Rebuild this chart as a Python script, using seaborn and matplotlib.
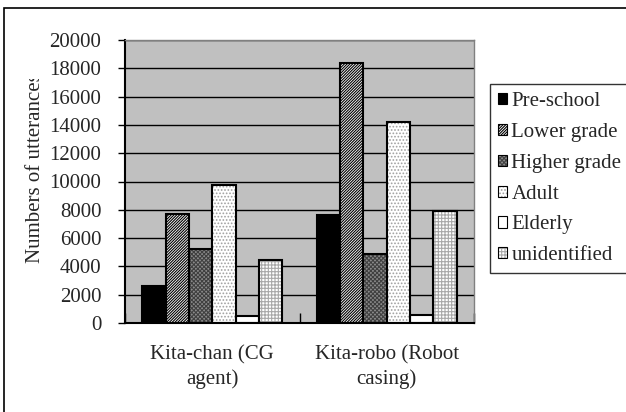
import matplotlib
matplotlib.use("Agg")
import matplotlib.pyplot as plt
from matplotlib.patches import Patch, Rectangle
from matplotlib.transforms import Bbox, TransformedBbox
import seaborn as sns
import pandas as pd

# Utterance counts per user group for the two agents
agents = ["Kita-chan (CG\nagent)", "Kita-robo (Robot\ncasing)"]
groups = ["Pre-school", "Lower grade", "Higher grade", "Adult", "Elderly", "unidentified"]
kita_chan = [2600, 7700, 5200, 9750, 500, 4450]
kita_robo = [7600, 18350, 4900, 14200, 550, 7900]
y_ticks = [0, 2000, 4000, 6000, 8000, 10000, 12000, 14000, 16000, 18000, 20000]

df = pd.DataFrame({
    "agent": [agents[0]] * len(groups) + [agents[1]] * len(groups),
    "group": groups * 2,
    "count": kita_chan + kita_robo,
})

sns.set_theme(style="white")
plt.rcParams["font.family"] = ["Liberation Serif", "DejaVu Serif"]
plt.rcParams["hatch.linewidth"] = 0.8

FS = 15

# face colour, hatch pattern, hatch colour for each group
styles = {
    "Pre-school":   ("black",   "",        "black"),
    "Lower grade":  ("white",   "/" * 12,  "black"),
    "Higher grade": ("#8a8a8a", "x" * 8,   "#404040"),
    "Adult":        ("white",   "." * 5,   "#a0a0a0"),
    "Elderly":      ("white",   "",        "white"),
    "unidentified": ("white",   "+" * 5,   "#a8a8a8"),
}

fig = plt.figure(figsize=(6.26, 4.12), dpi=100)
ax = fig.add_axes([125 / 626, 1 - 323 / 412, 349 / 626, 283 / 412])
ax.set_facecolor("#c0c0c0")

ax.yaxis.grid(True, color="black", linewidth=1.0)
ax.set_axisbelow(True)

# filled, hatched bars
sns.barplot(data=df, x="agent", y="count", hue="group", hue_order=groups,
            order=agents, palette=["white"] * len(groups), width=0.8,
            legend=False, ax=ax, linewidth=0, saturation=1)
for cont, g in zip(ax.containers, groups):
    face, hatch, hcol = styles[g]
    for p in cont.patches:
        p.set_facecolor(face)
        p.set_hatch(hatch)
        p.set_edgecolor(hcol)
        p.set_linewidth(0)
        p.set_zorder(2)

# black outlines on top
n_fill = len(ax.containers)
sns.barplot(data=df, x="agent", y="count", hue="group", hue_order=groups,
            order=agents, palette=["black"] * len(groups), width=0.8,
            legend=False, ax=ax, fill=False, linewidth=1.5, saturation=1)
for cont in ax.containers[n_fill:]:
    for p in cont.patches:
        p.set_edgecolor("black")
        p.set_zorder(3)

ax.set_ylim(0, 20000)
ax.set_xlim(-0.5, 1.5)
ax.set_yticks(y_ticks)
ax.set_yticklabels([str(v) for v in y_ticks], fontsize=FS)
ax.tick_params(axis="y", direction="out", length=5, width=1, color="black", pad=12, left=True)
ax.set_xticks([0, 1])
ax.set_xticklabels(agents, fontsize=FS, linespacing=1.3)
ax.tick_params(axis="x", length=0, pad=16)
ax.set_xticks([-0.5, 0.5, 1.5], minor=True)
ax.tick_params(axis="x", which="minor", direction="in", length=7, width=1, color="black", bottom=True)
ax.set_xlabel("")
ax.set_ylabel("")

for side in ["top", "right"]:
    ax.spines[side].set_color("#808080")
    ax.spines[side].set_linewidth(1.0)
for side in ["left", "bottom"]:
    ax.spines[side].set_color("black")
    ax.spines[side].set_linewidth(1.5)

# y axis title, cut off at the top by the chart frame
ylab = fig.text(36 / 626, 1 - 263 / 412, "Numbers of utterances", rotation=90,
                ha="center", va="bottom", fontsize=FS)
ylab.set_clip_box(TransformedBbox(Bbox([[0, 0], [1, 1 - 79 / 412]]), fig.transFigure))
ylab.set_clip_on(True)

handles = []
for g in groups:
    face, hatch, hcol = styles[g]
    fill = Patch(facecolor=face, hatch=hatch, edgecolor=hcol, linewidth=0)
    edge = Patch(facecolor="none", edgecolor="black", linewidth=0.8)
    handles.append((fill, edge))
leg = fig.legend(handles, groups, loc="upper left",
                 bbox_to_anchor=(490 / 626, 1 - 84 / 412), borderaxespad=0,
                 fontsize=FS, frameon=True, fancybox=False, edgecolor="black",
                 handlelength=0.45, handleheight=0.45, handletextpad=0.2,
                 labelspacing=0.57, borderpad=0.38)
leg.get_frame().set_linewidth(1.0)

# outer chart frame
fig.add_artist(Rectangle((4 / 626, -0.1), 1.2, 1 - 8 / 412 + 0.1, transform=fig.transFigure,
                         fill=False, edgecolor="black", linewidth=1.2))

fig.savefig("out.png", dpi=100)
